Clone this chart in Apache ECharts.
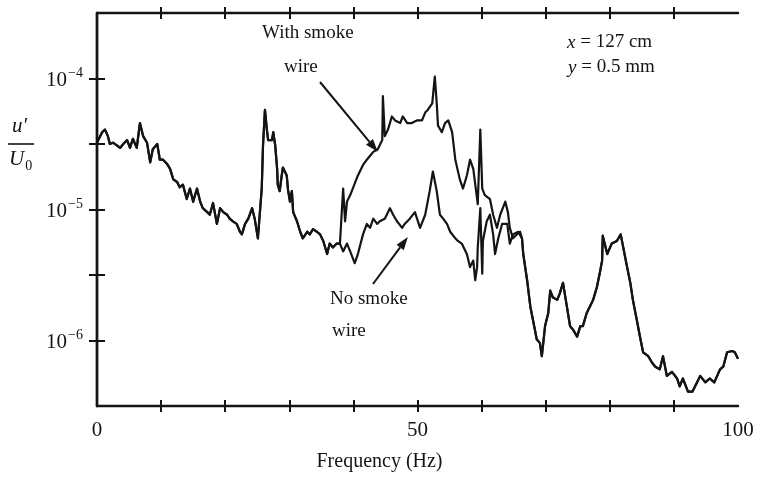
<!DOCTYPE html>
<html>
<head>
<meta charset="utf-8">
<title>Velocity fluctuation spectrum</title>
<script src="https://cdn.jsdelivr.net/npm/echarts@6/dist/echarts.min.js"></script>
<style>
  html, body { margin: 0; padding: 0; background: #fff; }
  #chart { width: 759px; height: 479px; }
</style>
</head>
<body>
<div id="chart"></div>
<script>
// Spectrum of u'/U0 at x = 127 cm, y = 0.5 mm, stored as [frequency (Hz), log10(u'/U0)]

// 0 - 38 Hz: both runs coincide
const commonLow = [
  [0, -4.49], [0.8, -4.41], [1.25, -4.39], [1.7, -4.44], [2.0, -4.50], [2.5, -4.49],
  [3.1, -4.51], [3.6, -4.53], [4.1, -4.50], [4.7, -4.47], [5.15, -4.53], [5.6, -4.46],
  [6.2, -4.53], [6.7, -4.34], [7.2, -4.44], [7.8, -4.49], [8.3, -4.64], [8.7, -4.54],
  [9.4, -4.50], [9.8, -4.62], [10.3, -4.62], [10.9, -4.65], [11.4, -4.69], [11.9, -4.77],
  [12.5, -4.79], [12.9, -4.83], [13.4, -4.81], [14.0, -4.92], [14.5, -4.84], [15.0, -4.94],
  [15.6, -4.84], [16.1, -4.94], [16.5, -4.99], [17.2, -5.02], [17.6, -5.04], [18.1, -4.95],
  [18.7, -5.11], [19.2, -4.99], [19.7, -5.02], [20.3, -5.04], [20.7, -5.07], [21.2, -5.09],
  [21.8, -5.11], [22.3, -5.17], [22.6, -5.19], [23.1, -5.11], [23.6, -5.07], [24.2, -4.99],
  [24.6, -5.07], [25.1, -5.22], [25.7, -4.84], [25.9, -4.51], [26.2, -4.24], [26.5, -4.39],
  [26.7, -4.47], [27.3, -4.47], [27.5, -4.41], [27.8, -4.51], [28.1, -4.69], [28.2, -4.81],
  [28.5, -4.86], [28.9, -4.71], [29.0, -4.68], [29.6, -4.74], [29.8, -4.85], [30.1, -4.94],
  [30.4, -4.86], [30.6, -5.02], [31.2, -5.09], [31.7, -5.17], [32.1, -5.22], [32.8, -5.17],
  [33.2, -5.19], [33.7, -5.15], [34.3, -5.17], [34.8, -5.19], [35.3, -5.24], [35.9, -5.34],
  [36.3, -5.26], [36.8, -5.29], [37.4, -5.26], [37.9, -5.26]
];

// 38 - 66 Hz without the smoke wire
const noSmokeMid = [
  [38.4, -5.32], [39.0, -5.26], [39.5, -5.32], [40.2, -5.41], [40.7, -5.34], [41.5, -5.19],
  [42.1, -5.11], [42.6, -5.14], [43.1, -5.07], [43.7, -5.11], [44.1, -5.09], [44.9, -5.07],
  [45.7, -4.99], [46.2, -5.04], [46.8, -5.09], [47.6, -5.14], [48.0, -5.11], [48.8, -5.07],
  [49.6, -5.02], [50.4, -5.14], [51.2, -5.04], [51.9, -4.86], [52.4, -4.71], [53.0, -4.86],
  [53.5, -5.04], [54.0, -5.07], [54.6, -5.11], [55.1, -5.17], [55.9, -5.22], [56.3, -5.24],
  [56.9, -5.26], [57.7, -5.34], [58.2, -5.44], [58.7, -5.39], [59.0, -5.54], [59.3, -5.44],
  [59.4, -5.29], [59.8, -4.99], [60.1, -5.49], [60.2, -5.24], [60.8, -5.09], [61.3, -5.04],
  [61.8, -5.19], [62.1, -5.34], [62.6, -5.22], [63.2, -5.11], [64.0, -5.11], [64.4, -5.26],
  [64.9, -5.19], [65.7, -5.17], [66.3, -5.22]
];

// 38 - 66 Hz with the smoke wire in place
const withSmokeMid = [
  [38.4, -4.84], [38.7, -5.09], [39.0, -4.94], [39.5, -4.89], [39.9, -4.84], [40.7, -4.74],
  [41.5, -4.66], [42.1, -4.62], [42.6, -4.59], [43.1, -4.56], [43.8, -4.54], [44.5, -4.47],
  [44.6, -4.135], [44.9, -4.44], [45.4, -4.39], [46.0, -4.29], [46.5, -4.32], [47.3, -4.34],
  [47.7, -4.29], [48.4, -4.34], [49.1, -4.34], [49.9, -4.32], [50.7, -4.32], [51.2, -4.26],
  [51.6, -4.24], [52.3, -4.19], [52.7, -3.985], [53.0, -4.19], [53.2, -4.36], [53.8, -4.41],
  [54.3, -4.34], [54.8, -4.32], [55.4, -4.41], [55.9, -4.62], [56.6, -4.77], [57.1, -4.84],
  [57.7, -4.74], [58.2, -4.62], [58.7, -4.69], [59.3, -4.92], [59.4, -4.96], [59.8, -4.39],
  [60.1, -4.84], [60.5, -4.89], [61.3, -4.92], [61.8, -5.04], [62.4, -5.14], [62.9, -5.04],
  [63.7, -4.94], [64.1, -5.02], [64.4, -5.14], [64.9, -5.22], [65.5, -5.19], [66.0, -5.17],
  [66.3, -5.22]
];

// 66 - 100 Hz: both runs coincide again
const commonHigh = [
  [66.5, -5.34], [67.1, -5.54], [67.6, -5.74], [68.0, -5.84], [68.6, -5.99], [69.1, -6.02],
  [69.4, -6.12], [69.9, -5.89], [70.4, -5.79], [70.7, -5.62], [71.1, -5.67], [71.8, -5.69],
  [72.2, -5.64], [72.7, -5.56], [73.3, -5.74], [73.8, -5.89], [74.3, -5.92], [74.9, -5.97],
  [75.4, -5.89], [75.8, -5.89], [76.4, -5.79], [76.9, -5.74], [77.4, -5.69], [78.0, -5.59],
  [78.5, -5.47], [78.8, -5.39], [78.9, -5.20], [79.6, -5.34], [80.3, -5.26], [81.1, -5.24],
  [81.7, -5.19], [82.1, -5.29], [82.7, -5.44], [83.2, -5.56], [83.6, -5.69], [84.2, -5.84],
  [84.7, -5.97], [85.2, -6.09], [86.0, -6.12], [86.6, -6.17], [87.1, -6.20], [87.8, -6.22],
  [88.3, -6.12], [88.9, -6.27], [89.7, -6.24], [90.5, -6.29], [90.9, -6.35], [91.4, -6.29],
  [92.2, -6.39], [92.9, -6.39], [93.6, -6.32], [94.1, -6.27], [94.9, -6.32], [95.6, -6.29],
  [96.3, -6.32], [97.2, -6.22], [97.7, -6.20], [98.3, -6.09], [99.1, -6.08], [99.5, -6.09],
  [100, -6.14]
];

// Axis ticks and labels
const xTickValues = [10, 20, 30, 40, 50, 60, 70, 80, 90];
const xLabelValues = [0, 50, 100];
const yTickValues = [-6, -5.5, -5, -4.5, -4];
const yLabelValues = [-6, -5, -4];

const noSmoke = commonLow.concat(noSmokeMid, commonHigh);
const withSmoke = commonLow.concat(withSmokeMid, commonHigh);

const FONT = '"Liberation Serif", "DejaVu Serif", "Times New Roman", serif';
const INK = '#141414';

const chart = echarts.init(document.getElementById('chart'), null, { renderer: 'canvas' });

function tickAxis(extra) {
  return Object.assign({
    type: 'value',
    axisLine: { show: false },
    splitLine: { show: false },
    axisLabel: { show: false },
    axisTick: { show: true, length: 7, lineStyle: { color: INK, width: 2 } }
  }, extra);
}

const xBase = { min: 0, max: 100, interval: 10 };
const yBase = { min: -6.5, max: -3.5, interval: 0.5 };

chart.setOption({
  animation: false,
  backgroundColor: '#ffffff',
  grid: { left: 97, right: 21, top: 13, bottom: 73, containLabel: false },
  xAxis: [
    Object.assign({}, xBase, {
      type: 'value', position: 'bottom',
      axisLine: { show: true, lineStyle: { color: INK, width: 2.4 } },
      splitLine: { show: false },
      axisTick: { show: true, inside: false, length: 6, customValues: xTickValues,
                  lineStyle: { color: INK, width: 2 } },
      axisLabel: { show: true, customValues: xLabelValues, margin: 14,
                   color: INK, fontFamily: FONT, fontSize: 21 }
    }),
    tickAxis(Object.assign({}, xBase, { position: 'bottom',
      axisTick: { show: true, inside: true, length: 6, customValues: xTickValues,
                  lineStyle: { color: INK, width: 2 } } })),
    Object.assign({}, xBase, {
      type: 'value', position: 'top',
      axisLine: { show: true, lineStyle: { color: INK, width: 2.4 } },
      splitLine: { show: false },
      axisLabel: { show: false },
      axisTick: { show: true, inside: false, length: 6, customValues: xTickValues,
                  lineStyle: { color: INK, width: 2 } }
    }),
    tickAxis(Object.assign({}, xBase, { position: 'top',
      axisTick: { show: true, inside: true, length: 6, customValues: xTickValues,
                  lineStyle: { color: INK, width: 2 } } }))
  ],
  yAxis: [
    Object.assign({}, yBase, {
      type: 'value', position: 'left',
      axisLine: { show: true, lineStyle: { color: INK, width: 2.4 } },
      splitLine: { show: false },
      axisTick: { show: true, inside: false, length: 8, customValues: yTickValues,
                  lineStyle: { color: INK, width: 2 } },
      axisLabel: {
        show: true, customValues: yLabelValues, margin: 14,
        formatter: function (v) { return '{b|10}{s|−' + Math.round(-v) + '}'; },
        rich: {
          b: { fontFamily: FONT, fontSize: 21, color: INK, verticalAlign: 'bottom', lineHeight: 24 },
          s: { fontFamily: FONT, fontSize: 14, color: INK, verticalAlign: 'top', lineHeight: 24, padding: [0, 0, 14, 1] }
        }
      }
    }),
    tickAxis(Object.assign({}, yBase, { position: 'left',
      axisTick: { show: true, inside: true, length: 8, customValues: yTickValues,
                  lineStyle: { color: INK, width: 2 } } })),
    Object.assign({}, yBase, {
      type: 'value', position: 'right',
      axisLine: { show: true, lineStyle: { color: INK, width: 2.4 } },
      splitLine: { show: false },
      axisLabel: { show: false },
      axisTick: { show: true, inside: false, length: 8, customValues: yTickValues,
                  lineStyle: { color: INK, width: 2 } }
    }),
    tickAxis(Object.assign({}, yBase, { position: 'right',
      axisTick: { show: true, inside: true, length: 8, customValues: yTickValues,
                  lineStyle: { color: INK, width: 2 } } }))
  ],
  series: [
    {
      name: 'No smoke wire', type: 'line', data: noSmoke,
      xAxisIndex: 0, yAxisIndex: 0, showSymbol: false, smooth: false,
      lineStyle: { color: INK, width: 2.2, join: 'round' }, z: 3
    },
    {
      name: 'With smoke wire', type: 'line', data: withSmoke,
      xAxisIndex: 0, yAxisIndex: 0, showSymbol: false, smooth: false,
      lineStyle: { color: INK, width: 2.2, join: 'round' }, z: 3
    }
  ]
});

// Arrow helper in pixel space for the curve callouts
function arrow(x1, y1, x2, y2) {
  const ang = Math.atan2(y2 - y1, x2 - x1);
  const L = 13, W = 4.5;
  const bx = x2 - L * Math.cos(ang), by = y2 - L * Math.sin(ang);
  const px = -Math.sin(ang) * W, py = Math.cos(ang) * W;
  return [
    { type: 'line', shape: { x1: x1, y1: y1, x2: bx, y2: by },
      style: { stroke: INK, lineWidth: 2 }, z: 10 },
    { type: 'polygon', shape: { points: [[x2, y2], [bx + px, by + py], [bx - px, by - py]] },
      style: { fill: INK }, z: 10 }
  ];
}

const textStyle = { fontFamily: FONT, fontSize: 19, fill: INK };

const withHead = chart.convertToPixel({ xAxisIndex: 0, yAxisIndex: 0 }, [43.8, -4.56]);
const noHead = chart.convertToPixel({ xAxisIndex: 0, yAxisIndex: 0 }, [48.5, -5.21]);

chart.setOption({
  graphic: [
    // y-axis title u'/U0
    { type: 'text', left: 12, top: 116,
      style: { text: 'u′', font: 'italic 21px ' + FONT, fill: INK } },
    { type: 'line', shape: { x1: 8, y1: 144, x2: 34, y2: 144 },
      style: { stroke: INK, lineWidth: 1.6 } },
    { type: 'text', left: 9, top: 149,
      style: { text: '{u|U}{o|0}', rich: {
        u: { font: 'italic 21px ' + FONT, fill: INK, verticalAlign: 'bottom' },
        o: { font: '14px ' + FONT, fill: INK, verticalAlign: 'bottom', padding: [0, 0, -3, 1] }
      } } },
    // x-axis title
    { type: 'text', left: 'center', top: 452,
      style: { text: 'Frequency (Hz)', font: '20px ' + FONT, fill: INK }, x: 40 },
    // measuring station
    { type: 'text', left: 567, top: 33,
      style: { text: '{i|x} = 127 cm', rich: { i: { font: 'italic 19px ' + FONT } }, font: '19px ' + FONT, fill: INK } },
    { type: 'text', left: 568, top: 58,
      style: { text: '{i|y} = 0.5 mm', rich: { i: { font: 'italic 19px ' + FONT } }, font: '19px ' + FONT, fill: INK } },
    // callout labels
    { type: 'text', left: 262, top: 24, style: Object.assign({ text: 'With smoke' }, textStyle) },
    { type: 'text', left: 284, top: 58, style: Object.assign({ text: 'wire' }, textStyle) },
    { type: 'text', left: 330, top: 290, style: Object.assign({ text: 'No smoke' }, textStyle) },
    { type: 'text', left: 332, top: 322, style: Object.assign({ text: 'wire' }, textStyle) }
  ].concat(
    arrow(320, 82, withHead[0], withHead[1]),
    arrow(373, 284, noHead[0], noHead[1])
  )
});
</script>
</body>
</html>
